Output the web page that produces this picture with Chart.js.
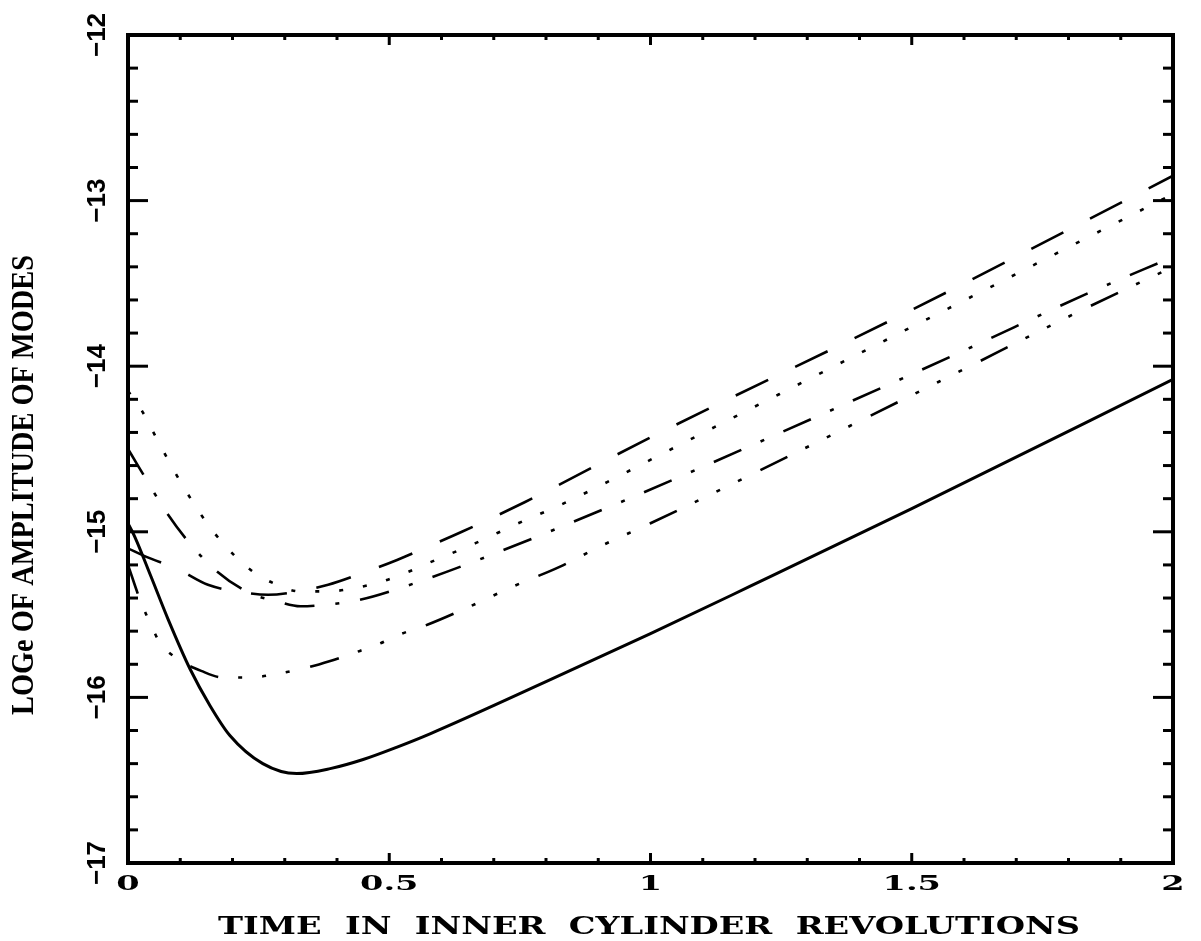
<!DOCTYPE html>
<html>
<head>
<meta charset="utf-8">
<title>Amplitude of modes</title>
<script src="https://cdn.jsdelivr.net/npm/chart.js@4.4.1/dist/chart.umd.min.js"></script>
<style>
  html, body { margin: 0; padding: 0; background: #fff; }
  canvas { display: block; }
</style>
</head>
<body>
<canvas id="modesChart" width="1201" height="941"></canvas>
<script>
// time in inner cylinder revolutions / log_e amplitude, one pair of arrays per mode
const solidT = [0, 0.013, 0.044, 0.077, 0.119, 0.157, 0.195, 0.258, 0.323, 0.387, 0.45, 0.515, 0.578, 0.8, 1.0, 1.19, 1.5, 2.0];
const solidV = [-14.95, -15.03, -15.27, -15.53, -15.83, -16.05, -16.23, -16.40, -16.46, -16.43, -16.375, -16.30, -16.22, -15.905, -15.615, -15.33, -14.86, -14.08];

const longDashT = [0, 0.034, 0.092, 0.153, 0.23, 0.268, 0.306, 0.383, 0.448, 0.515, 0.574, 0.639, 0.76, 1.0, 1.5, 2.0];
const longDashV = [-15.10, -15.15, -15.22, -15.32, -15.37, -15.38, -15.37, -15.32, -15.25, -15.17, -15.09, -15.00, -14.82, -14.43, -13.66, -12.85];

const dottedT = [0, 0.025, 0.057, 0.088, 0.122, 0.161, 0.209, 0.239, 0.278, 0.329, 0.381, 0.434, 0.486, 0.53, 0.574, 0.664, 0.746, 0.833, 0.917, 0.997, 1.483, 1.646, 1.807, 2.0];
const dottedV = [-14.15, -14.26, -14.45, -14.63, -14.81, -14.99, -15.16, -15.24, -15.31, -15.36, -15.36, -15.34, -15.30, -15.25, -15.19, -15.07, -14.95, -14.83, -14.70, -14.57, -13.79, -13.53, -13.27, -12.96];

const dashDotT = [0, 0.019, 0.071, 0.113, 0.167, 0.233, 0.285, 0.33, 0.38, 0.444, 0.53, 0.67, 0.936, 1.12, 1.583, 1.837, 2.0];
const dashDotV = [-14.50, -14.60, -14.87, -15.05, -15.23, -15.37, -15.42, -15.45, -15.44, -15.41, -15.33, -15.17, -14.83, -14.58, -13.93, -13.56, -13.34];

const dashDot3T = [0, 0.023, 0.048, 0.061, 0.096, 0.14, 0.182, 0.233, 0.281, 0.343, 0.387, 0.434, 0.478, 0.52, 0.574, 0.655, 0.737, 0.827, 0.909, 0.999, 1.118, 1.567, 1.82, 2.0];
const dashDot3V = [-15.20, -15.41, -15.59, -15.67, -15.77, -15.84, -15.88, -15.88, -15.86, -15.82, -15.78, -15.73, -15.68, -15.62, -15.56, -15.45, -15.33, -15.21, -15.08, -14.95, -14.77, -14.07, -13.67, -13.40];

// axis ticks
const xTicks = [0, 0.5, 1, 1.5, 2];
const xTickLabels = ['0', '0.5', '1', '1.5', '2'];
const yTicks = [-17, -16, -15, -14, -13, -12];
const yTickLabels = ['\u221217', '\u221216', '\u221215', '\u221214', '\u221213', '\u221212'];

const xTitle = 'TIME  IN  INNER  CYLINDER  REVOLUTIONS';
const yTitle = 'LOGe OF AMPLITUDE OF MODES';

function points(ts, vs) {
  return ts.map((t, i) => ({ x: t, y: vs[i] }));
}

function curve(ts, vs, dash, width) {
  return {
    data: points(ts, vs),
    borderColor: '#000',
    borderWidth: width,
    borderDash: dash,
    borderCapStyle: dash.length ? 'butt' : 'round',
    borderJoinStyle: 'round',
    pointRadius: 0,
    fill: false,
    cubicInterpolationMode: 'monotone'
  };
}

// text squeezed or stretched along its baseline to a fixed length
function fitText(ctx, text, cx, cy, length, font, angle) {
  ctx.save();
  ctx.translate(cx, cy);
  ctx.rotate(angle);
  ctx.font = font;
  ctx.textAlign = 'center';
  ctx.textBaseline = 'middle';
  const w = ctx.measureText(text).width;
  ctx.scale(length / w, 1);
  ctx.fillText(text, 0, 0);
  ctx.restore();
}

const frame = {
  id: 'frame',
  beforeDraw(chart) {
    const ctx = chart.ctx;
    ctx.save();
    ctx.fillStyle = '#fff';
    ctx.fillRect(0, 0, chart.width, chart.height);
    ctx.restore();
  },
  afterDatasetsDraw(chart) {
    const { ctx, chartArea: a, scales: { x, y } } = chart;
    ctx.save();
    ctx.strokeStyle = '#000';
    ctx.fillStyle = '#000';
    ctx.lineCap = 'butt';
    ctx.lineWidth = 3;

    const seg = (x1, y1, x2, y2) => {
      ctx.beginPath();
      ctx.moveTo(x1, y1);
      ctx.lineTo(x2, y2);
      ctx.stroke();
    };

    // inward ticks on all four sides
    for (let i = 0; i <= 20; i++) {
      const px = x.getPixelForValue(i / 10);
      const len = i % 5 === 0 ? 10 : 5;
      seg(px, a.bottom, px, a.bottom - len);
      seg(px, a.top, px, a.top + len);
    }
    for (let i = 0; i <= 25; i++) {
      const py = y.getPixelForValue(-17 + i * 0.2);
      const len = i % 5 === 0 ? 20 : 10;
      seg(a.left, py, a.left + len, py);
      seg(a.right, py, a.right - len, py);
    }

    ctx.lineWidth = 4;
    ctx.strokeRect(a.left, a.top, a.right - a.left, a.bottom - a.top);

    // tick labels
    xTicks.forEach((v, i) => {
      const px = x.getPixelForValue(v);
      ctx.save();
      ctx.translate(px, a.bottom + 22);
      ctx.scale(1.6, 1);
      ctx.font = 'bold 21px "DejaVu Serif"';
      ctx.textAlign = 'center';
      ctx.textBaseline = 'middle';
      ctx.fillText(xTickLabels[i], 0, 0);
      ctx.restore();
    });
    yTicks.forEach((v, i) => {
      const py = y.getPixelForValue(v);
      ctx.save();
      ctx.translate(a.left - 30, py);
      ctx.rotate(-Math.PI / 2);
      ctx.font = 'bold 26px "Liberation Sans"';
      ctx.textAlign = 'center';
      ctx.textBaseline = 'middle';
      ctx.fillText(yTickLabels[i], 0, 0);
      ctx.restore();
    });

    // axis titles
    fitText(ctx, xTitle, 649, 928, 862, 'bold 24px "DejaVu Serif"', 0);
    fitText(ctx, yTitle, 25, 485, 460, 'bold 32px "Liberation Serif"', -Math.PI / 2);
    ctx.restore();
  }
};

new Chart(document.getElementById('modesChart').getContext('2d'), {
  type: 'line',
  data: {
    datasets: [
      curve(solidT, solidV, [], 3),
      curve(longDashT, longDashV, [36, 30], 2.6),
      curve(dottedT, dottedV, [4, 20], 2.6),
      curve(dashDotT, dashDotV, [30, 21, 4, 21], 2.6),
      curve(dashDot3T, dashDot3V, [30, 20, 4, 20, 4, 20, 4, 21], 2.6)
    ]
  },
  options: {
    responsive: false,
    animation: false,
    devicePixelRatio: 1,
    layout: { padding: { left: 128, top: 35, right: 28, bottom: 78 } },
    plugins: { legend: { display: false }, tooltip: { enabled: false } },
    scales: {
      x: { type: 'linear', min: 0, max: 2, display: false },
      y: { type: 'linear', min: -17, max: -12, display: false }
    }
  },
  plugins: [frame]
});
</script>
</body>
</html>
